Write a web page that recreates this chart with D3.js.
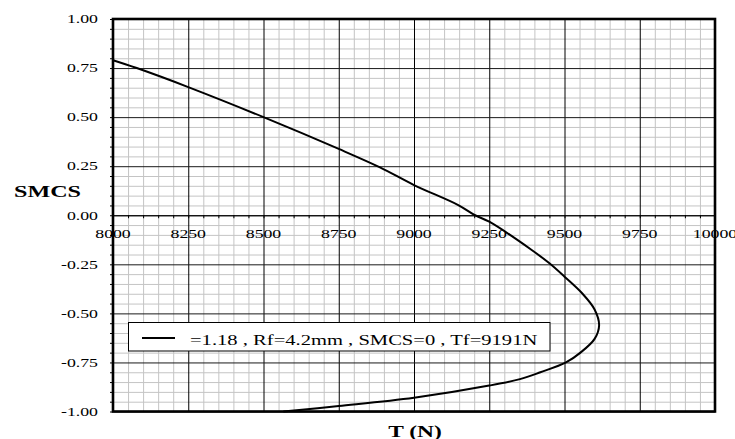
<!DOCTYPE html>
<html>
<head>
<meta charset="utf-8">
<script src="https://cdn.jsdelivr.net/npm/d3@7"></script>
<style>
  html, body { margin: 0; padding: 0; background: #fff; }
  svg { display: block; }
  text { font-family: "Liberation Serif", "Times New Roman", serif; fill: #000; }
</style>
</head>
<body>
<div id="chart"></div>
<script>
// Tension T (N) against SMCS
const tensionTicks = [8000, 8250, 8500, 8750, 9000, 9250, 9500, 9750, 10000];
const tensionLabels = ["8000", "8250", "8500", "8750", "9000", "9250", "9500", "9750", "10000"];
const smcsTicks = [1, 0.75, 0.5, 0.25, 0, -0.25, -0.5, -0.75, -1];
const smcsLabels = ["1.00", "0.75", "0.50", "0.25", "0.00", "-0.25", "-0.50", "-0.75", "-1.00"];

// curve points, in drawing order
const curveT    = [8000, 8079, 8250, 8500, 8750, 8887, 9000, 9147, 9203, 9250, 9391, 9450, 9500, 9560, 9600, 9615, 9600, 9553, 9505, 9420, 9352, 9250, 9000, 8750, 8566];
const curveSMCS = [0.79, 0.75, 0.653, 0.50, 0.338, 0.244, 0.154, 0.052, 0.0, -0.033, -0.177, -0.245, -0.313, -0.40, -0.48, -0.56, -0.63, -0.70, -0.75, -0.80, -0.835, -0.868, -0.93, -0.972, -1.0];

const legendText = "=1.18 , Rf=4.2mm , SMCS=0 , Tf=9191N";
const xTitle = "T (N)";
const yTitle = "SMCS";

const W = 735, H = 439;
const STRETCH = 1.42;

const svg = d3.select("#chart").append("svg")
  .attr("width", W).attr("height", H);

const x = d3.scaleLinear().domain([8000, 10000]).range([113, 715]);
const y = d3.scaleLinear().domain([-1, 1]).range([411.5, 19]);
const plotH = y(-1) - y(1);
const plotW = x(10000) - x(8000);

const isMajorX = v => Math.abs(v % 250) < 1e-6;
const isMajorY = v => Math.abs(Math.round(v * 100) % 25) < 1e-6;

const minorX = d3.range(8000, 10001, 50).filter(v => !isMajorX(v));
const minorY = d3.range(-100, 101, 5).map(v => v / 100).filter(v => !isMajorY(v));

// minor grid
svg.append("g")
  .attr("transform", `translate(0,${y(-1)})`)
  .call(d3.axisBottom(x).tickValues(minorX).tickSize(-plotH).tickFormat(""))
  .call(g => g.select(".domain").remove())
  .call(g => g.selectAll("line").attr("stroke", "#c4c4c4").attr("stroke-width", 1));
svg.append("g")
  .attr("transform", `translate(${x(8000)},0)`)
  .call(d3.axisLeft(y).tickValues(minorY).tickSize(-plotW).tickFormat(""))
  .call(g => g.select(".domain").remove())
  .call(g => g.selectAll("line").attr("stroke", "#c4c4c4").attr("stroke-width", 1));

// major grid
svg.append("g")
  .attr("transform", `translate(0,${y(-1)})`)
  .call(d3.axisBottom(x).tickValues(tensionTicks).tickSize(-plotH).tickFormat(""))
  .call(g => g.select(".domain").remove())
  .call(g => g.selectAll("line").attr("stroke", "#000").attr("stroke-width", 1));
svg.append("g")
  .attr("transform", `translate(${x(8000)},0)`)
  .call(d3.axisLeft(y).tickValues(smcsTicks).tickSize(-plotW).tickFormat(""))
  .call(g => g.select(".domain").remove())
  .call(g => g.selectAll("line").attr("stroke", "#1a1a1a").attr("stroke-width", 1));

// horizontal axis along SMCS = 0, with small ticks
svg.append("g")
  .attr("transform", `translate(0,${y(0)})`)
  .call(d3.axisBottom(x).tickValues(d3.range(8000, 10001, 50)).tickSize(3).tickSizeOuter(0).tickFormat(""))
  .call(g => g.select(".domain").attr("stroke", "#000").attr("stroke-width", 1.2))
  .call(g => g.selectAll("line").attr("stroke", "#000").attr("stroke-width", 1));

// left axis ticks
svg.append("g")
  .attr("transform", `translate(${x(8000)},0)`)
  .call(d3.axisLeft(y).tickValues(d3.range(-100, 101, 5).map(v => v / 100)).tickSize(3).tickSizeOuter(0).tickFormat(""))
  .call(g => g.select(".domain").remove())
  .call(g => g.selectAll("line").attr("stroke", "#000").attr("stroke-width", 1));

// plot frame
svg.append("rect")
  .attr("x", x(8000)).attr("y", y(1))
  .attr("width", plotW).attr("height", plotH)
  .attr("fill", "none").attr("stroke", "#000").attr("stroke-width", 2.6);

// curve
const pts = curveT.map((t, i) => ({ t, s: curveSMCS[i] }));
const line = d3.line()
  .x(d => x(d.t)).y(d => y(d.s))
  .curve(d3.curveCatmullRom.alpha(0.5));
svg.append("path")
  .datum(pts)
  .attr("d", line)
  .attr("fill", "none")
  .attr("stroke", "#000")
  .attr("stroke-width", 2)
  .attr("stroke-linejoin", "round");

// stretched text helper
function label(px, py, str, size, anchor, weight) {
  return svg.append("text")
    .attr("transform", `translate(${px},${py}) scale(${STRETCH},1)`)
    .attr("text-anchor", anchor)
    .attr("font-size", size)
    .attr("font-weight", weight || "normal")
    .text(str);
}

// tick labels
tensionTicks.forEach((v, i) => label(x(v), 238, tensionLabels[i], 12.5, "middle"));
smcsTicks.forEach((v, i) => label(98, y(v) + 4.3, smcsLabels[i], 12.5, "end"));

// axis titles
label(47.5, 197, yTitle, 17, "middle", "bold");
label(415, 436.5, xTitle, 16.5, "middle", "bold");

// legend
svg.append("rect")
  .attr("x", 128.5).attr("y", 322.5)
  .attr("width", 421.5).attr("height", 28.5)
  .attr("fill", "#fff").attr("stroke", "#000").attr("stroke-width", 1);
svg.append("line")
  .attr("x1", 142).attr("x2", 175)
  .attr("y1", 338).attr("y2", 338)
  .attr("stroke", "#000").attr("stroke-width", 2);
label(190, 344.5, legendText, 14.5, "start");
</script>
</body>
</html>
